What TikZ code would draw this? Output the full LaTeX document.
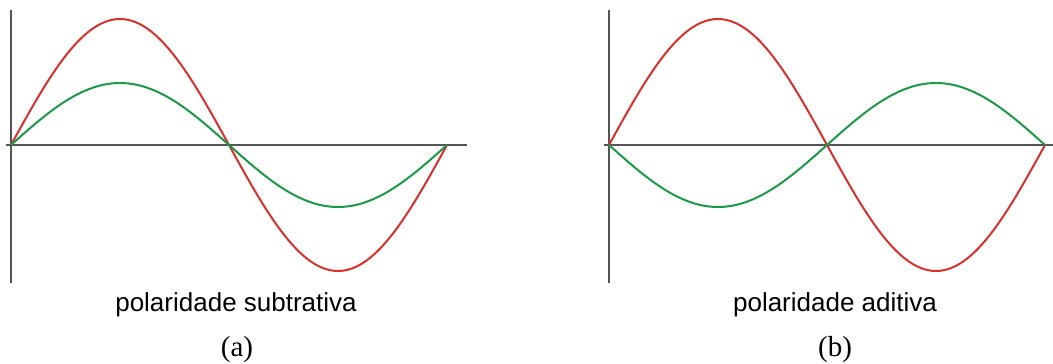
\documentclass[tikz,border=0pt]{standalone}
\usepackage{fontspec}
\setmainfont{Liberation Serif}
\setsansfont{Liberation Sans}
\definecolor{wred}{HTML}{D9302B}
\definecolor{wgreen}{HTML}{1A9A48}
\definecolor{axisgray}{HTML}{555555}
\begin{document}
\begin{tikzpicture}[x=1pt,y=-1pt,
  axisline/.style={draw=axisgray,line width=1.6pt},
  redwave/.style={draw=wred,line width=2pt},
  greenwave/.style={draw=wgreen,line width=2pt},
  caption/.style={font=\sffamily\fontsize{26}{30}\selectfont,inner sep=0pt,anchor=base},
  sublabel/.style={font=\rmfamily\fontsize{29}{33}\selectfont,inner sep=0pt,anchor=base}]
\useasboundingbox (0,0) rectangle (1053,364);
% left plot
\draw[axisline] (11,10) -- (11,283);
\draw[axisline] (6,145) -- (467,145);
\draw[redwave] plot[domain=0:436,samples=120,smooth] ({11+\x},{145-126*sin(\x/436*360)});
\draw[greenwave] plot[domain=0:436,samples=120,smooth] ({11+\x},{145-62*sin(\x/436*360)});
\node[caption] (capa) at (236,311) {polaridade subtrativa};
\node[sublabel] (laba) at (237,356) {(a)};
% right plot
\draw[axisline] (609,10) -- (609,283);
\draw[axisline] (604,145) -- (1053,145);
\draw[redwave] plot[domain=0:436,samples=120,smooth] ({609+\x},{145-126*sin(\x/436*360)});
\draw[greenwave] plot[domain=0:436,samples=120,smooth] ({609+\x},{145+62*sin(\x/436*360)});
\node[caption] (capb) at (835,311) {polaridade aditiva};
\node[sublabel] (labb) at (835,356) {(b)};
\end{tikzpicture}
\end{document}
